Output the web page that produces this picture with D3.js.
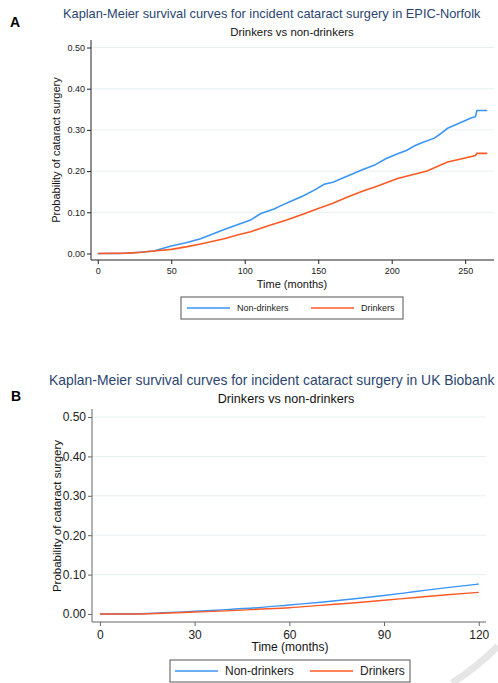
<!DOCTYPE html>
<html>
<head>
<meta charset="utf-8">
<script src="https://cdn.jsdelivr.net/npm/d3@7"></script>
<style>
  body { margin: 0; background: #fff; }
  svg { font-family: "Liberation Sans", Arial, sans-serif; }
</style>
</head>
<body>
<div id="chart"></div>
<script>
// Panel A: EPIC-Norfolk (months, cumulative probability)
const monthsA_non = [0, 15, 25, 38, 50, 60, 70, 80, 86, 95, 104, 106, 111, 120, 124, 131, 140, 148, 154, 160, 170, 180, 188, 196, 204, 210, 216, 220, 229, 233, 238, 245, 254, 257, 258, 265];
const probA_non  = [0, 0.000, 0.002, 0.006, 0.018, 0.026, 0.036, 0.050, 0.058, 0.070, 0.081, 0.086, 0.097, 0.108, 0.115, 0.126, 0.140, 0.155, 0.168, 0.173, 0.188, 0.203, 0.214, 0.230, 0.242, 0.250, 0.262, 0.268, 0.280, 0.290, 0.304, 0.315, 0.329, 0.332, 0.347, 0.347];
const monthsA_drk = [0, 20, 30, 38, 50, 60, 70, 86, 95, 104, 115, 129, 140, 150, 160, 170, 180, 190, 204, 214, 224, 238, 250, 257, 258, 265];
const probA_drk  = [0, 0.001, 0.003, 0.006, 0.010, 0.016, 0.023, 0.036, 0.045, 0.053, 0.066, 0.082, 0.096, 0.109, 0.122, 0.137, 0.151, 0.163, 0.182, 0.191, 0.200, 0.222, 0.232, 0.238, 0.243, 0.243];

// Panel B: UK Biobank
const monthsB = [0, 10, 20, 30, 40, 50, 60, 70, 80, 90, 100, 110, 120];
const probB_non = [0, 0.000, 0.003, 0.007, 0.011, 0.016, 0.023, 0.030, 0.038, 0.047, 0.057, 0.067, 0.076];
const probB_drk = [0, 0.000, 0.002, 0.005, 0.008, 0.012, 0.016, 0.022, 0.028, 0.035, 0.042, 0.049, 0.055];

const yTicks = [0, 0.1, 0.2, 0.3, 0.4, 0.5];
const xTicksA = [0, 50, 100, 150, 200, 250];
const xTicksB = [0, 30, 60, 90, 120];
const seriesNames = ["Non-drinkers", "Drinkers"];

const colors = { non: "#3a95f5", drk: "#fb5a24" };

const width = 498, height = 683;

const svg = d3.select("#chart")
    .append("svg")
    .attr("width", width)
    .attr("height", height);

function drawPanel(p) {
    const g = svg.append("g");

    let x = d3.scaleLinear().domain(p.xDomain).range([p.left, p.right]);
    let y = d3.scaleLinear().domain([0, 0.5]).range([p.y0, p.y50]);

    // panel letter
    g.append("text")
        .attr("x", p.letterX).attr("y", p.letterY)
        .attr("font-size", 14).attr("font-weight", "bold")
        .text(p.letter);

    // titles
    g.append("text")
        .attr("x", p.titleX).attr("y", p.titleY)
        .attr("font-size", p.titleSize)
        .attr("fill", "#2b4570")
        .text(p.title);

    g.append("text")
        .attr("x", p.subX).attr("y", p.subY)
        .attr("text-anchor", "middle")
        .attr("font-size", p.subSize)
        .attr("fill", "#111")
        .text("Drinkers vs non-drinkers");

    // gridlines
    g.selectAll(".grid")
        .data(yTicks.slice(1))
        .join("line")
        .attr("x1", p.left).attr("x2", p.right)
        .attr("y1", d => y(d)).attr("y2", d => y(d))
        .attr("stroke", "#e6f0f1").attr("stroke-width", 1);

    // y axis
    let yAxis = g.append("g")
        .attr("transform", `translate(${p.left},0)`)
        .call(d3.axisLeft(y).tickValues(yTicks).tickFormat(d3.format(".2f")).tickSize(4).tickPadding(2));
    yAxis.select(".domain").attr("d", `M0,${p.axisY}V${p.yTop}`).attr("stroke", p.axisColor);
    yAxis.selectAll(".tick line").attr("stroke", p.axisColor);
    yAxis.selectAll(".tick text").attr("font-size", p.tickSize).attr("fill", "#222").attr("font-family", "Liberation Sans, Arial, sans-serif");

    // x axis
    let xAxis = g.append("g")
        .attr("transform", `translate(0,${p.axisY})`)
        .call(d3.axisBottom(x).tickValues(p.xTicks).tickSize(4).tickPadding(4));
    xAxis.select(".domain").attr("d", `M${p.left},0H${p.right}`).attr("stroke", p.axisColor);
    xAxis.selectAll(".tick line").attr("stroke", p.axisColor);
    xAxis.selectAll(".tick text").attr("font-size", p.tickSize).attr("fill", "#222").attr("font-family", "Liberation Sans, Arial, sans-serif");

    g.append("text")
        .attr("x", p.xTitleX).attr("y", p.xTitleY)
        .attr("text-anchor", "middle")
        .attr("font-size", p.axisTitleSize)
        .attr("fill", "#111")
        .text("Time (months)");

    g.append("text")
        .attr("transform", `translate(${p.yTitleX},${p.yTitleY}) rotate(-90)`)
        .attr("text-anchor", "middle")
        .attr("font-size", p.yTitleSize)
        .attr("fill", "#111")
        .text("Probability of cataract surgery");

    // curves
    let line = d3.line().x(d => x(d[0])).y(d => y(d[1])).curve(p.curve);
    g.append("path")
        .datum(p.nonX.map((m, i) => [m, p.nonY[i]]))
        .attr("d", line).attr("fill", "none")
        .attr("stroke", colors.non).attr("stroke-width", p.lw);
    g.append("path")
        .datum(p.drkX.map((m, i) => [m, p.drkY[i]]))
        .attr("d", line).attr("fill", "none")
        .attr("stroke", colors.drk).attr("stroke-width", p.lw);

    // legend
    let L = p.legend;
    g.append("rect")
        .attr("x", L.x).attr("y", L.y).attr("width", L.w).attr("height", L.h)
        .attr("fill", "#fff").attr("stroke", "#555").attr("stroke-width", 1);
    [colors.non, colors.drk].forEach((c, i) => {
        let lx = L.items[i];
        g.append("line")
            .attr("x1", lx).attr("x2", lx + 43)
            .attr("y1", L.y + L.h / 2).attr("y2", L.y + L.h / 2)
            .attr("stroke", c).attr("stroke-width", p.lw);
        g.append("text")
            .attr("x", lx + 50).attr("y", L.y + L.h / 2)
            .attr("dy", "0.35em")
            .attr("font-size", L.size).attr("fill", "#222")
            .text(seriesNames[i]);
    });
}

drawPanel({
    letter: "A", letterX: 10, letterY: 27,
    title: "Kaplan-Meier survival curves for incident cataract surgery in EPIC-Norfolk",
    titleX: 63, titleY: 18, titleSize: 12.8,
    subX: 292, subY: 36, subSize: 11.4,
    left: 91, right: 494, xDomain: [-4.6, 269.6],
    y0: 253.5, y50: 47.5, yTop: 40, axisY: 260,
    axisColor: "#222", tickSize: 9,
    xTicks: xTicksA,
    xTitleX: 292, xTitleY: 288, axisTitleSize: 11,
    yTitleX: 60, yTitleY: 150, yTitleSize: 11,
    nonX: monthsA_non, nonY: probA_non, drkX: monthsA_drk, drkY: probA_drk,
    curve: d3.curveLinear, lw: 1.6,
    legend: { x: 181, y: 297, w: 222, h: 22, items: [187, 311], size: 9 }
});

drawPanel({
    letter: "B", letterX: 11, letterY: 401,
    title: "Kaplan-Meier survival curves for incident cataract surgery in UK Biobank",
    titleX: 49, titleY: 385, titleSize: 13.9,
    subX: 286, subY: 403, subSize: 12.6,
    left: 92, right: 486, xDomain: [-2.5, 122.3],
    y0: 614, y50: 417, yTop: 409, axisY: 622,
    axisColor: "#666", tickSize: 12,
    xTicks: xTicksB,
    xTitleX: 290, xTitleY: 651, axisTitleSize: 12,
    yTitleX: 61, yTitleY: 516, yTitleSize: 11.5,
    nonX: monthsB, nonY: probB_non, drkX: monthsB, drkY: probB_drk,
    curve: d3.curveMonotoneX, lw: 1.4,
    legend: { x: 170, y: 660, w: 240, h: 22, items: [175, 310], size: 12 }
});

// faint page artefact in the lower right corner
svg.append("path")
    .attr("d", "M498,646 Q476,668 452,683")
    .attr("fill", "none")
    .attr("stroke", "#e6e6e6")
    .attr("stroke-width", 7);
</script>
</body>
</html>
